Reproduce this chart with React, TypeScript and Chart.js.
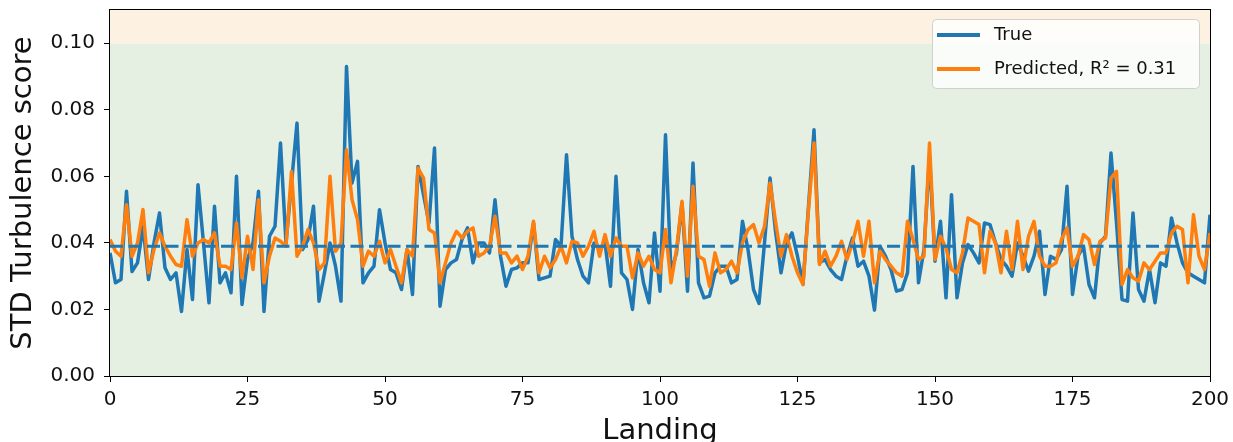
import React, { useEffect, useRef } from "react";
import { Chart, registerables } from "chart.js";

Chart.register(...registerables);

const trueVals = [
  0.037, 0.028, 0.029, 0.0555, 0.0314, 0.034, 0.045, 0.029, 0.04, 0.049,
  0.0325, 0.029, 0.031, 0.0194, 0.038, 0.023, 0.0575, 0.04, 0.022, 0.051,
  0.028, 0.031, 0.025, 0.06, 0.0215, 0.035, 0.04, 0.0555, 0.0194, 0.042,
  0.045, 0.07, 0.04, 0.058, 0.076, 0.038, 0.041, 0.051, 0.0225, 0.031,
  0.04, 0.033, 0.0225, 0.093, 0.058, 0.0645, 0.028, 0.031, 0.033, 0.05,
  0.04, 0.032, 0.031, 0.026, 0.038, 0.0245, 0.063, 0.0545, 0.046, 0.0685,
  0.021, 0.032, 0.034, 0.035, 0.041, 0.0445, 0.034, 0.04, 0.04, 0.037,
  0.053, 0.036, 0.027, 0.032, 0.0325, 0.034, 0.034, 0.046, 0.029, 0.0295,
  0.03, 0.041, 0.039, 0.0665, 0.042, 0.035, 0.03, 0.028, 0.04, 0.038,
  0.04, 0.027, 0.06, 0.031, 0.029, 0.02, 0.038, 0.028, 0.022, 0.043,
  0.0255, 0.0725, 0.031, 0.037, 0.052, 0.0255, 0.064, 0.028, 0.0235, 0.024,
  0.031, 0.033, 0.033, 0.028, 0.029, 0.0465, 0.038, 0.026, 0.0218, 0.04,
  0.0595, 0.0435, 0.031, 0.04, 0.043, 0.036, 0.0275, 0.051, 0.074, 0.034,
  0.035, 0.032, 0.03, 0.029, 0.036, 0.0415, 0.033, 0.0345, 0.03, 0.0198,
  0.039, 0.036, 0.032, 0.0255, 0.026, 0.031, 0.063, 0.028, 0.038, 0.066,
  0.0345, 0.0465, 0.0235, 0.0545, 0.0235, 0.034, 0.0395, 0.037, 0.034, 0.046,
  0.0455, 0.04, 0.035, 0.033, 0.03, 0.04, 0.036, 0.0315, 0.036, 0.0435,
  0.0245, 0.036, 0.035, 0.038, 0.057, 0.0245, 0.036, 0.039, 0.0275, 0.0235,
  0.04, 0.042, 0.067, 0.046, 0.023, 0.0225, 0.049, 0.026, 0.0225, 0.032,
  0.022, 0.034, 0.033, 0.0475, 0.04, 0.034, 0.031, 0.03, 0.029, 0.028,
  0.0485,
];

const predVals = [
  0.041, 0.0375, 0.036, 0.0515, 0.036, 0.04, 0.05, 0.031, 0.038, 0.043,
  0.039, 0.036, 0.0335, 0.033, 0.047, 0.036, 0.04, 0.041, 0.04, 0.043,
  0.033, 0.033, 0.032, 0.046, 0.0295, 0.042, 0.032, 0.053, 0.028, 0.036,
  0.0415, 0.0405, 0.039, 0.0615, 0.036, 0.039, 0.044, 0.04, 0.032, 0.034,
  0.06, 0.0375, 0.04, 0.068, 0.053, 0.047, 0.033, 0.0375, 0.036, 0.0405,
  0.034, 0.038, 0.033, 0.028, 0.038, 0.036, 0.0625, 0.0595, 0.044, 0.043,
  0.028, 0.034, 0.04, 0.0435, 0.0415, 0.0435, 0.0445, 0.036, 0.037, 0.039,
  0.048, 0.037, 0.037, 0.034, 0.036, 0.032, 0.036, 0.0465, 0.031, 0.036,
  0.0325, 0.035, 0.039, 0.034, 0.0405, 0.04, 0.036, 0.039, 0.0435, 0.036,
  0.0425, 0.036, 0.0415, 0.039, 0.039, 0.0295, 0.037, 0.033, 0.036, 0.032,
  0.031, 0.044, 0.028, 0.038, 0.0525, 0.03, 0.057, 0.036, 0.035, 0.027,
  0.037, 0.031, 0.032, 0.0345, 0.031, 0.04, 0.044, 0.0455, 0.04, 0.045,
  0.058, 0.0465, 0.036, 0.0425, 0.036, 0.031, 0.0275, 0.05, 0.07, 0.0335,
  0.0375, 0.033, 0.036, 0.0405, 0.035, 0.04, 0.0465, 0.036, 0.0465, 0.028,
  0.0375, 0.035, 0.033, 0.031, 0.03, 0.0465, 0.041, 0.035, 0.036, 0.07,
  0.035, 0.042, 0.0385, 0.032, 0.031, 0.037, 0.0475, 0.0465, 0.0455, 0.031,
  0.0435, 0.04, 0.031, 0.0435, 0.032, 0.0465, 0.032, 0.042, 0.0465, 0.036,
  0.033, 0.033, 0.034, 0.041, 0.0445, 0.033, 0.036, 0.0425, 0.041, 0.0335,
  0.0405, 0.0415, 0.0595, 0.0615, 0.0275, 0.032, 0.0295, 0.0285, 0.034, 0.032,
  0.0345, 0.037, 0.037, 0.043, 0.045, 0.044, 0.028, 0.0485, 0.036, 0.032,
  0.043,
];

const meanTrue = 0.039;
const xRange = [0, 200];
const xTicks = [0, 25, 50, 75, 100, 125, 150, 175, 200];
const yTicks = [0, 0.02, 0.04, 0.06, 0.08, 0.1];
const yMax = 0.11;
const greenBand = [0, 0.1];
const orangeBand = [0.1, 0.11];
const legendLabels = ["True", "Predicted, R\u00B2 = 0.31"];

const BLUE = "#1f77b4";
const ORANGE = "#ff7f0e";
const FONT = "'DejaVu Sans', sans-serif";

const bandsPlugin = {
  id: "bands",
  beforeDatasetsDraw(chart: any) {
    const { ctx, chartArea, scales } = chart;
    const y = scales.y;
    ctx.save();
    const drawBand = (b: number[], color: string) => {
      const top = y.getPixelForValue(b[1]);
      const bot = y.getPixelForValue(b[0]);
      ctx.fillStyle = color;
      ctx.fillRect(chartArea.left, top, chartArea.right - chartArea.left, bot - top);
    };
    drawBand(greenBand, "#e5f0e3");
    drawBand(orangeBand, "#fdf2e1");
    ctx.restore();
  },
};

const framePlugin = {
  id: "frame",
  afterDraw(chart: any) {
    const { ctx, chartArea } = chart;
    ctx.save();
    ctx.strokeStyle = "#000";
    ctx.lineWidth = 1;
    ctx.strokeRect(
      Math.round(chartArea.left) - 0.5,
      Math.round(chartArea.top) - 0.5,
      Math.round(chartArea.right - chartArea.left) + 1,
      Math.round(chartArea.bottom - chartArea.top) + 1
    );
    // legend
    const bx = 932.5, by = 19.5, bw = 267, bh = 69;
    ctx.beginPath();
    (ctx as any).roundRect(bx, by, bw, bh, 4);
    ctx.fillStyle = "rgba(255,255,255,0.8)";
    ctx.fill();
    ctx.strokeStyle = "#d0d0d0";
    ctx.lineWidth = 1;
    ctx.stroke();
    const rows = [35, 69];
    const colors = [BLUE, ORANGE];
    rows.forEach((ry, i) => {
      ctx.beginPath();
      ctx.strokeStyle = colors[i];
      ctx.lineWidth = 4;
      ctx.moveTo(937, ry);
      ctx.lineTo(980, ry);
      ctx.stroke();
      ctx.fillStyle = "#111";
      ctx.font = `18px ${FONT}`;
      ctx.textBaseline = "middle";
      ctx.textAlign = "left";
      ctx.fillText(legendLabels[i], 994, ry);
    });
    ctx.restore();
  },
};

export default function App() {
  const ref = useRef<HTMLCanvasElement>(null);
  useEffect(() => {
    document.body.style.margin = "0";
    const canvas = ref.current!;
    const chart = new Chart(canvas, {
      type: "line",
      data: {
        datasets: [
          {
            label: "mean",
            data: xRange.map((x) => ({ x, y: meanTrue })),
            borderColor: BLUE,
            borderWidth: 3,
            borderDash: [13, 5.5],
            pointRadius: 0,
            order: 0,
          },
          {
            label: "Predicted",
            data: predVals.map((v, i) => ({ x: i, y: v })),
            borderColor: ORANGE,
            borderWidth: 3.5,
            pointRadius: 0,
            borderJoinStyle: "round",
            tension: 0,
            order: 1,
          },
          {
            label: "True",
            data: trueVals.map((v, i) => ({ x: i, y: v })),
            borderColor: BLUE,
            borderWidth: 3.5,
            pointRadius: 0,
            borderJoinStyle: "round",
            tension: 0,
            order: 2,
          },
        ],
      },
      options: {
        animation: false,
        responsive: false,
        devicePixelRatio: 1,
        layout: { padding: { top: 10, right: 23, left: 0, bottom: 0 } },
        plugins: { legend: { display: false }, tooltip: { enabled: false } },
        scales: {
          x: {
            type: "linear",
            min: xRange[0],
            max: xRange[1],
            afterBuildTicks: (s: any) => {
              s.ticks = xTicks.map((v) => ({ value: v }));
            },
            afterFit: (s: any) => {
              s.height = 66;
              s.paddingLeft = 0;
              s.paddingRight = 0;
            },
            grid: { drawOnChartArea: false, tickLength: 6, color: "#000", tickColor: "#000" },
            border: { display: false },
            ticks: {
              font: { family: FONT, size: 20 },
              color: "#111",
              padding: 6,
              maxRotation: 0,
              callback: (v: any) => String(v),
            },
            title: {
              display: true,
              text: "Landing",
              font: { family: FONT, size: 29, lineHeight: 0.7 },
              color: "#111",
              padding: { top: 0, bottom: 0 },
            },
          },
          y: {
            type: "linear",
            min: 0,
            max: yMax,
            afterBuildTicks: (s: any) => {
              s.ticks = yTicks.map((v) => ({ value: v }));
            },
            afterFit: (s: any) => {
              s.width = 110;
              s.paddingTop = 0;
              s.paddingBottom = 0;
            },
            grid: { drawOnChartArea: false, tickLength: 6, color: "#000", tickColor: "#000" },
            border: { display: false },
            ticks: {
              font: { family: FONT, size: 20 },
              color: "#111",
              padding: 9,
              callback: (v: any) => Number(v).toFixed(2),
            },
            title: {
              display: true,
              text: "STD Turbulence score",
              font: { family: FONT, size: 29 },
              color: "#111",
              padding: { top: 6, bottom: 0 },
            },
          },
        },
      },
      plugins: [bandsPlugin, framePlugin],
    });
    return () => chart.destroy();
  }, []);
  return (
    <div style={{ width: 1233, height: 442 }}>
      <canvas ref={ref} width={1233} height={442} />
    </div>
  );
}
